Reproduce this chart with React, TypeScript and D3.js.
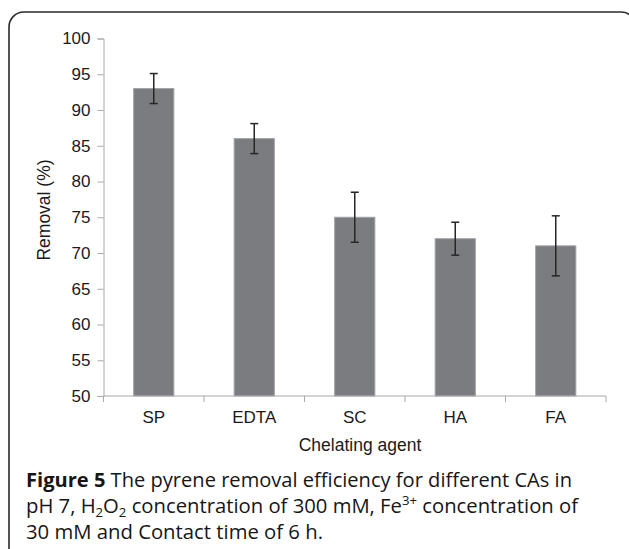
import { useEffect, useRef } from "react";
import * as d3 from "d3";

// chart values
const categories = ["SP", "EDTA", "SC", "HA", "FA"];
const removal = [93, 86, 75, 72, 71];
const errors = [2.1, 2.1, 3.5, 2.3, 4.2];
const yTicks = [50, 55, 60, 65, 70, 75, 80, 85, 90, 95, 100];

const W = 629;
const H = 549;

export default function App() {
  const gRef = useRef<SVGGElement | null>(null);

  useEffect(() => {
    const svg = d3.select(gRef.current);
    svg.selectAll("*").remove();

    const x = d3.scaleBand().domain(categories).range([103.5, 606]).padding(0);
    const y = d3.scaleLinear().domain([50, 100]).range([396, 38.5]);
    const barW = x.bandwidth() * 0.4;

    const font = "'Liberation Sans', Arial, sans-serif";

    // y axis
    const yAxis = svg.append("g")
      .attr("transform", `translate(103.5,0)`)
      .call(d3.axisLeft(y).tickValues(yTicks).tickSize(6).tickPadding(7));
    yAxis.selectAll("path, line").attr("stroke", "#a8a8a8");
    yAxis.selectAll("text")
      .style("font-family", font)
      .style("font-size", "17px")
      .attr("fill", "#1a1a1a");

    // bars
    svg.selectAll("rect.bar").data(categories).join("rect")
      .attr("class", "bar")
      .attr("x", (d) => x(d)! + (x.bandwidth() - barW) / 2)
      .attr("y", (d, i) => y(removal[i]))
      .attr("width", barW)
      .attr("height", (d, i) => y(50) - y(removal[i]))
      .attr("fill", "#7b7c80")
      .attr("stroke", "#a2a3a7")
      .attr("stroke-width", 1);

    // x axis line and boundary ticks
    const g = svg.append("g");
    g.append("line")
      .attr("x1", 103.5).attr("x2", 606)
      .attr("y1", y(50)).attr("y2", y(50))
      .attr("stroke", "#a8a8a8");
    const bounds = [...categories.map((c) => x(c)!), x.range()[1]];
    g.selectAll("line.tick").data(bounds).join("line")
      .attr("class", "tick")
      .attr("x1", (d) => d).attr("x2", (d) => d)
      .attr("y1", y(50)).attr("y2", y(50) + 6)
      .attr("stroke", "#a8a8a8");

    // error bars
    const eb = svg.append("g").attr("stroke", "#262626").attr("stroke-width", 1.5);
    categories.forEach((c, i) => {
      const cx = x(c)! + x.bandwidth() / 2;
      const top = y(removal[i] + errors[i]);
      const bot = y(removal[i] - errors[i]);
      eb.append("line").attr("x1", cx).attr("x2", cx).attr("y1", top).attr("y2", bot);
      eb.append("line").attr("x1", cx - 4).attr("x2", cx + 4).attr("y1", top).attr("y2", top);
      eb.append("line").attr("x1", cx - 4).attr("x2", cx + 4).attr("y1", bot).attr("y2", bot);
    });

    // category labels
    svg.selectAll("text.cat").data(categories).join("text")
      .attr("class", "cat")
      .attr("x", (d) => x(d)! + x.bandwidth() / 2)
      .attr("y", 423)
      .attr("text-anchor", "middle")
      .style("font-family", font)
      .style("font-size", "17px")
      .attr("fill", "#1a1a1a")
      .text((d) => d);

    // axis titles
    svg.append("text")
      .attr("x", 360).attr("y", 451)
      .attr("text-anchor", "middle")
      .style("font-family", font)
      .style("font-size", "17.5px")
      .attr("fill", "#1a1a1a")
      .text("Chelating agent");

    svg.append("text")
      .attr("transform", "translate(50,210) rotate(-90)")
      .attr("text-anchor", "middle")
      .style("font-family", font)
      .style("font-size", "17.5px")
      .attr("fill", "#1a1a1a")
      .text("Removal (%)");
  }, []);

  const cap = { fontFamily: "'Open Sans', sans-serif", fontSize: 20, fontWeight: 500, fill: "#161616" };
  const sub = { fontSize: 13 };

  return (
    <svg width={W} height={H} style={{ position: "absolute", left: 0, top: 0 }}>
      <rect x={9} y={12} width={627} height={560} rx={15}
        fill="white" stroke="#2a2a2a" strokeWidth={1.6} />
      <g ref={gRef} />
      <text x={26} y={487} style={cap} textLength={546} lengthAdjust="spacingAndGlyphs">
        <tspan fontWeight="bold">Figure 5</tspan> The pyrene removal efficiency for different CAs in
      </text>
      <text x={26} y={513} style={cap} textLength={552} lengthAdjust="spacingAndGlyphs">
        pH 7, H<tspan style={sub} dy={4}>2</tspan><tspan dy={-4}>O</tspan>
        <tspan style={sub} dy={4}>2</tspan><tspan dy={-4}> concentration of 300 mM, Fe</tspan>
        <tspan style={sub} dy={-8}>3+</tspan><tspan dy={8}> concentration of</tspan>
      </text>
      <text x={26} y={539} style={cap} textLength={297} lengthAdjust="spacingAndGlyphs">
        30 mM and Contact time of 6 h.
      </text>
    </svg>
  );
}
